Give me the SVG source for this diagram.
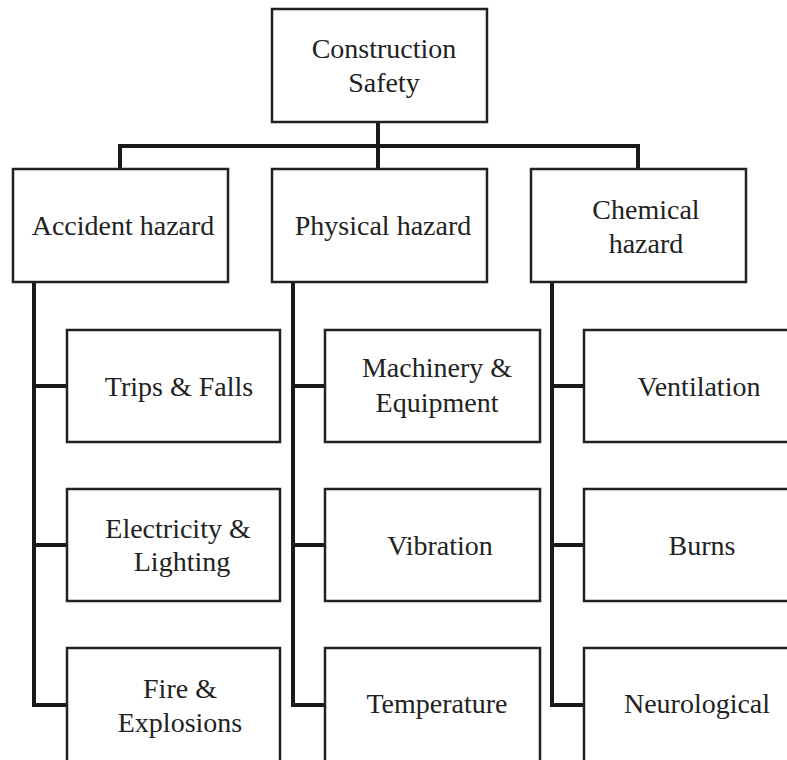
<svg xmlns="http://www.w3.org/2000/svg" width="787" height="760" viewBox="0 0 787 760">
<style>
.box{fill:#fff;stroke:#222;stroke-width:2.5}
.conn{fill:none;stroke:#1a1a1a;stroke-width:4;stroke-linejoin:miter;stroke-linecap:square}
text{font-family:"Liberation Serif","Times New Roman",serif;font-size:28px;fill:#222;text-anchor:middle}
</style>
<rect width="787" height="760" fill="#fff"/>
<g id="connectors">
<path class="conn" d="M378 122V167"/>
<path class="conn" d="M120 167V146H638V167"/>
<path class="conn" d="M34 283V705H67M34 386H67M34 545H67"/>
<path class="conn" d="M293 283V705H325M293 386H325M293 545H325"/>
<path class="conn" d="M552 283V705H584M552 386H584M552 545H584"/>
</g>
<g id="construction-safety"><rect class="box" x="272" y="9" width="215" height="113"/><text x="384" y="58">Construction</text><text x="384" y="92">Safety</text></g>
<g id="accident-hazard"><rect class="box" x="13" y="169" width="215" height="113"/><text x="123" y="235">Accident hazard</text></g>
<g id="physical-hazard"><rect class="box" x="272" y="169" width="215" height="113"/><text x="383" y="235">Physical hazard</text></g>
<g id="chemical-hazard"><rect class="box" x="531" y="169" width="215" height="113"/><text x="646" y="219">Chemical</text><text x="646" y="253">hazard</text></g>
<g id="trips-falls"><rect class="box" x="67" y="330" width="213" height="112"/><text x="179" y="396">Trips &amp; Falls</text></g>
<g id="electricity-lighting"><rect class="box" x="67" y="489" width="213" height="112"/><text x="178" y="538">Electricity &amp;</text><text x="182" y="571">Lighting</text></g>
<g id="fire-explosions"><rect class="box" x="67" y="648" width="213" height="130"/><text x="180" y="698">Fire &amp;</text><text x="180" y="732">Explosions</text></g>
<g id="machinery-equipment"><rect class="box" x="325" y="330" width="215" height="112"/><text x="437" y="377">Machinery &amp;</text><text x="437" y="412">Equipment</text></g>
<g id="vibration"><rect class="box" x="325" y="489" width="215" height="112"/><text x="440" y="555">Vibration</text></g>
<g id="temperature"><rect class="box" x="325" y="648" width="215" height="130"/><text x="437" y="713">Temperature</text></g>
<g id="ventilation"><rect class="box" x="584" y="330" width="230" height="112"/><text x="699" y="396">Ventilation</text></g>
<g id="burns"><rect class="box" x="584" y="489" width="230" height="112"/><text x="702" y="555">Burns</text></g>
<g id="neurological"><rect class="box" x="584" y="648" width="230" height="130"/><text x="697" y="713">Neurological</text></g>
</svg>
